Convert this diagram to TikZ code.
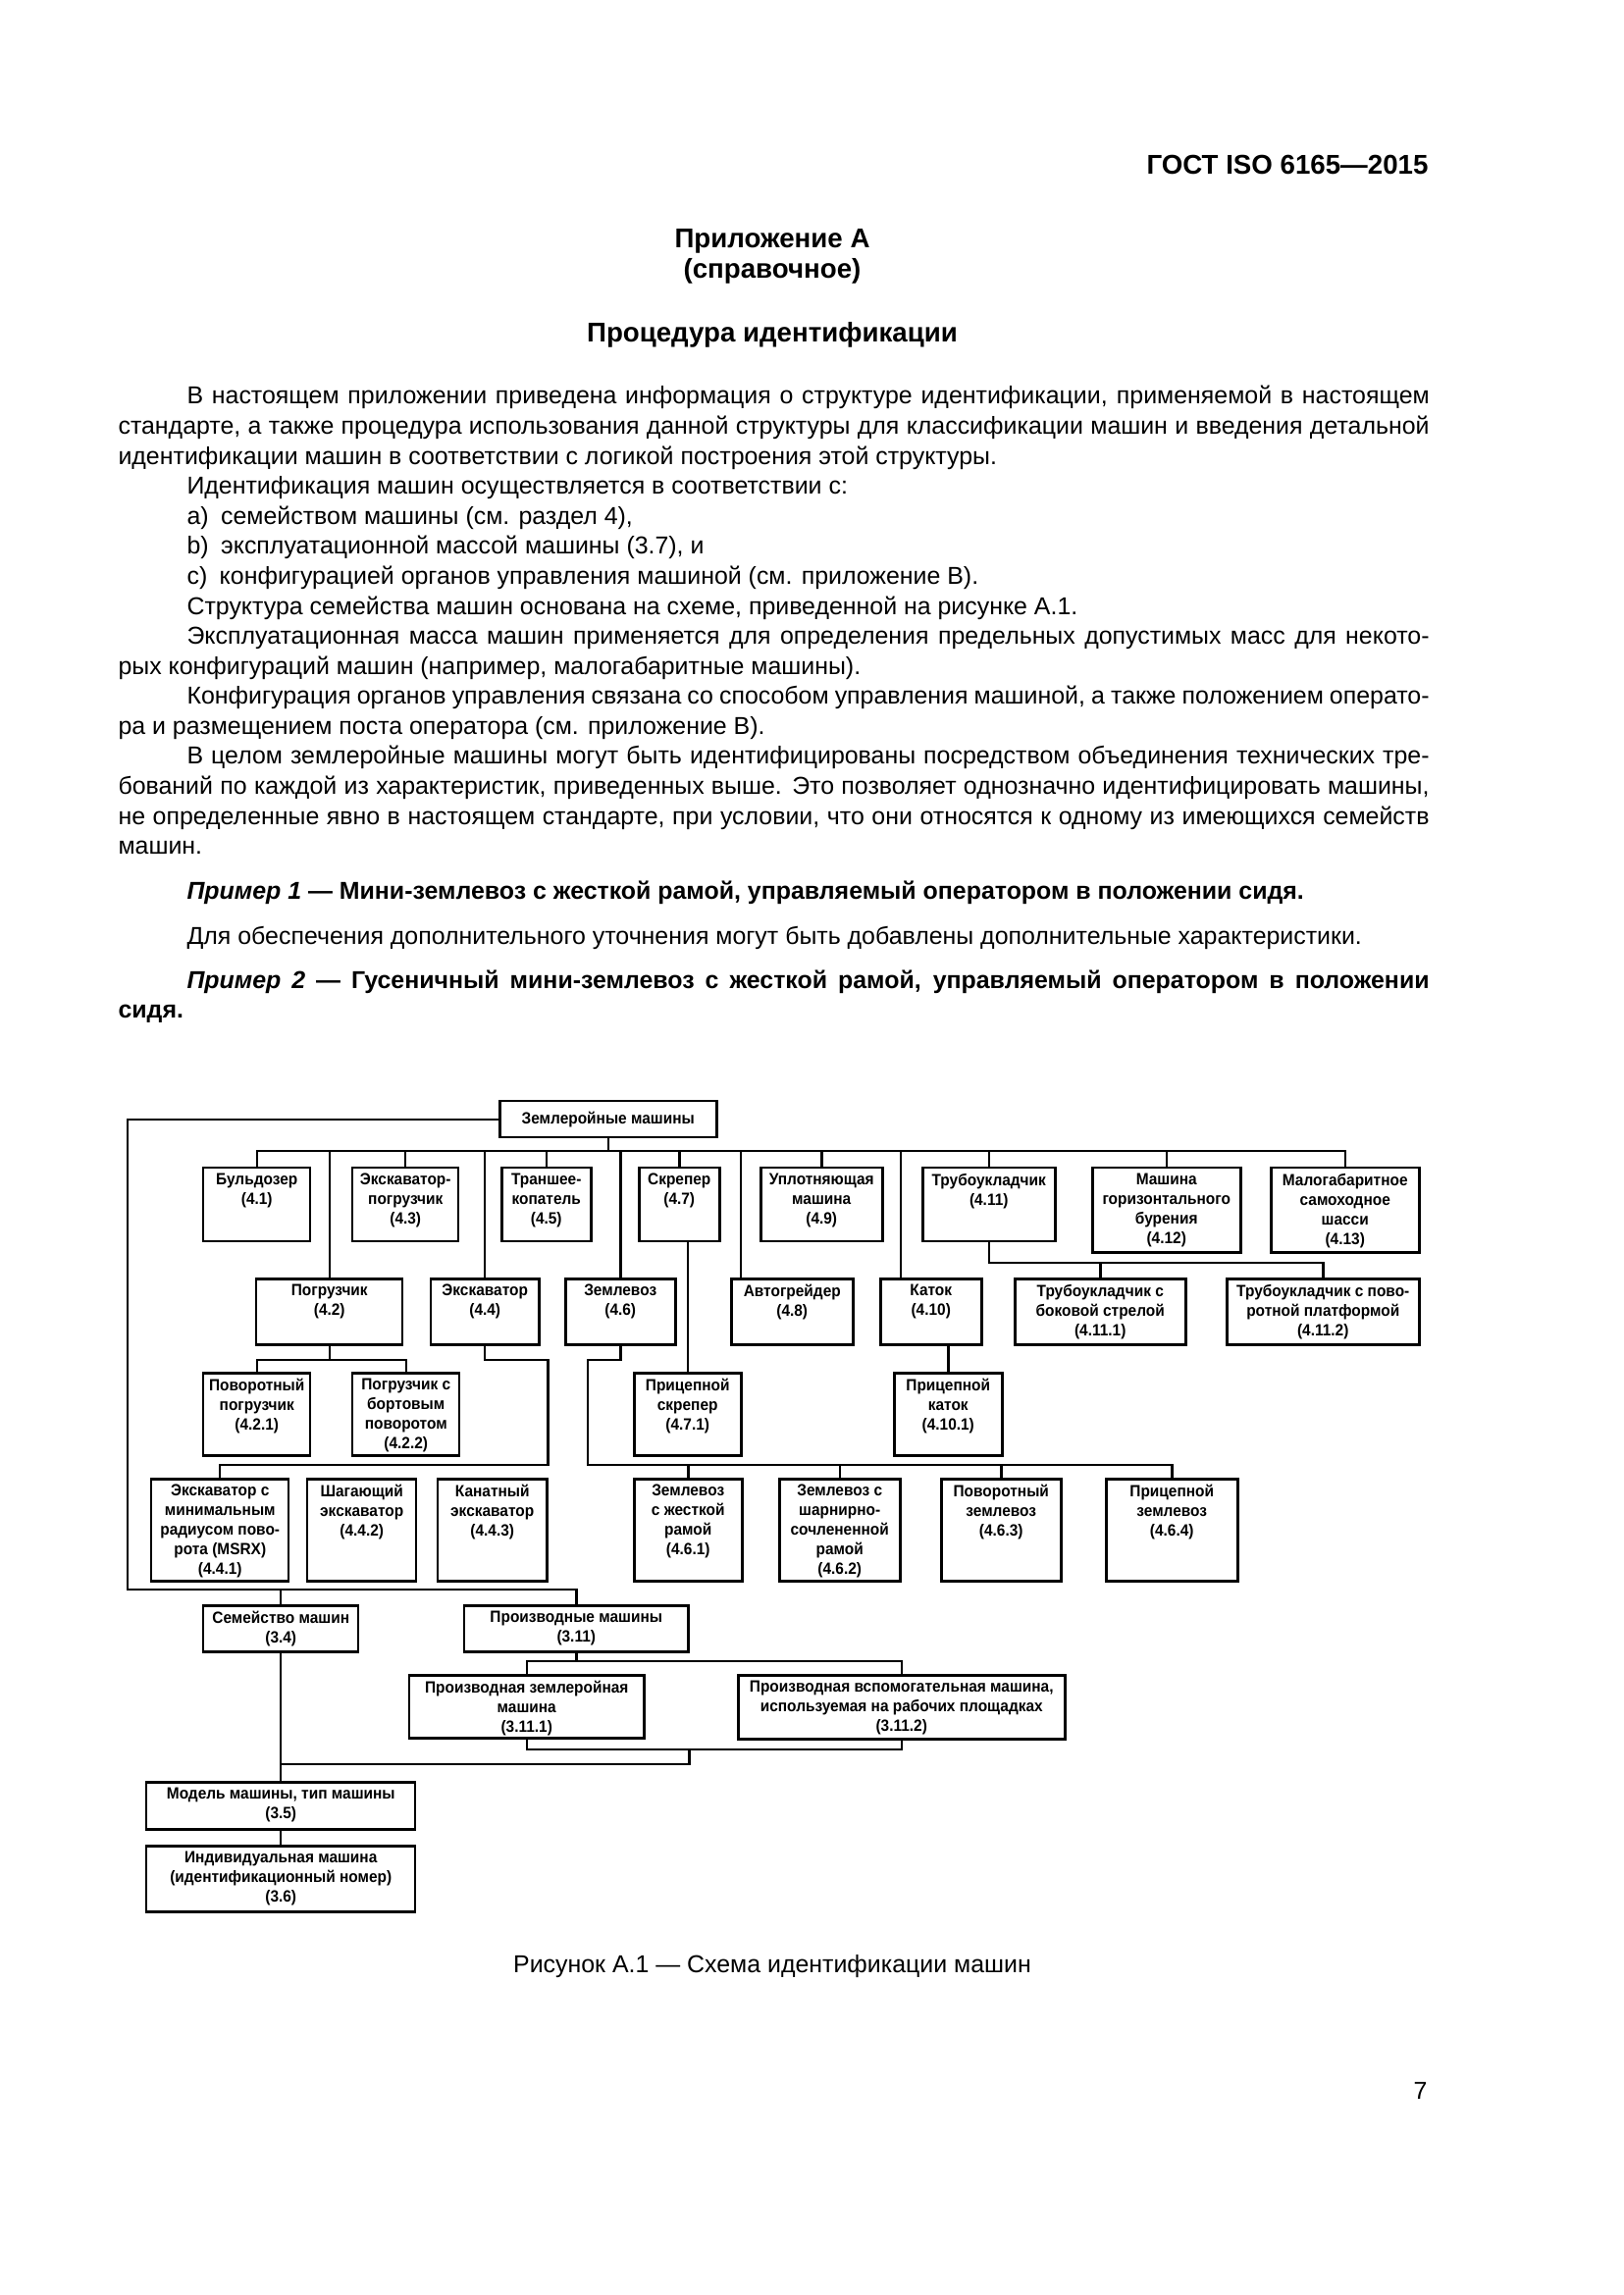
\documentclass[tikz,border=0pt]{standalone}
\usepackage{fontspec}
\setmainfont{Liberation Sans}
\newfontfamily{\gbfont}[FakeStretch=0.93]{Liberation Sans}
\newlength{\pxu}
\setlength{\pxu}{0.127mm}
% box text: width, height (in px), lines
\newcommand{\bt}[3]{\parbox[t][\dimexpr#2\pxu-12\pxu\relax][t]{#1\pxu}{\centering #3}}
\begin{document}
\begin{tikzpicture}[x=\pxu,y=-\pxu]
\tikzstyle{gb}=[draw=black,line width=.9pt,anchor=north west,inner xsep=0pt,inner ysep=6\pxu,font=\gbfont\fontsize{6}{7.2}\selectfont\bfseries]
\tikzstyle{ed}=[draw=black,line width=.9pt]
\tikzstyle{txt}=[inner sep=0pt,font=\fontsize{9}{11.05}\selectfont]
\tikzstyle{hd}=[inner sep=0pt,anchor=base,font=\fontsize{10}{12}\selectfont\bfseries]
\fill [white] (0,0) rectangle (1654,2339);
% page text
\node [hd,anchor=base east] (gost) at (1456,178) {ГОСТ ISO 6165—2015};
\node [hd] (app) at (787,253) {Приложение А};
\node [hd] (spr) at (787,284) {(справочное)};
\node [hd] (proc) at (787,349) {Процедура идентификации};
\node [txt,anchor=base west,text width=1336\pxu,align=justify] (body) at (120,412) {\setlength{\parindent}{70\pxu}\hspace*{70\pxu}%
В настоящем приложении приведена информация о структуре идентификации, применяемой в настоящем\linebreak стандарте, а также процедура использования данной структуры для классификации машин и введения детальной\linebreak идентификации машин в соответствии с логикой построения этой структуры.\par
Идентификация машин осуществляется в соответствии с:\par
a)\enspace семейством машины (см. раздел 4),\par
b)\enspace эксплуатационной массой машины (3.7), и\par
c)\enspace конфигурацией органов управления машиной (см. приложение B).\par
Структура семейства машин основана на схеме, приведенной на рисунке А.1.\par
Эксплуатационная масса машин применяется для определения предельных допустимых масс для некото-\linebreak рых конфигураций машин (например, малогабаритные машины).\par
Конфигурация органов управления связана со способом управления машиной, а также положением операто-\linebreak ра и размещением поста оператора (см. приложение B).\par
В целом землеройные машины могут быть идентифицированы посредством объединения технических тре-\linebreak бований по каждой из характеристик, приведенных выше. Это позволяет однозначно идентифицировать машины,\linebreak не определенные явно в настоящем стандарте, при условии, что они относятся к одному из имеющихся семейств\linebreak машин.\par};
\node [txt,anchor=base west,font=\fontsize{9}{11.05}\selectfont\bfseries] (ex1) at (190,916) {\textit{Пример 1} — Мини-землевоз с жесткой рамой, управляемый оператором в положении сидя.};
\node [txt,anchor=base west] (more) at (190,962) {Для обеспечения дополнительного уточнения могут быть добавлены дополнительные характеристики.};
\node [txt,anchor=base west,text width=1336\pxu,align=justify,font=\fontsize{9}{11.05}\selectfont\bfseries] (ex2) at (120,1007) {\hspace*{70\pxu}%
\textit{Пример 2} — Гусеничный мини-землевоз с жесткой рамой, управляемый оператором в положении\linebreak сидя.\par};
\node [txt,anchor=base] (cap) at (787,2010) {Рисунок А.1 — Схема идентификации машин};
\node [txt,anchor=base east] (pnum) at (1455,2139) {7};
% boxes
\node [gb,minimum width=221\pxu,minimum height=37\pxu,inner ysep=0pt] (main) at (508,1121) {Землеройные машины};
\node [gb] (buld) at (206,1189) {\bt{109}{75}{Бульдозер\\(4.1)}};
\node [gb] (ekp) at (358,1189) {\bt{108}{75}{Экскаватор-\\погрузчик\\(4.3)}};
\node [gb] (tran) at (510,1189) {\bt{91}{75}{Траншее-\\копатель\\(4.5)}};
\node [gb] (skr) at (650,1189) {\bt{82}{75}{Скрепер\\(4.7)}};
\node [gb] (upl) at (774,1189) {\bt{124}{75}{Уплотняющая\\машина\\(4.9)}};
\node [gb] (trub) at (939,1189) {\bt{135}{75}{Трубоукладчик\\(4.11)}};
\node [gb] (mgb) at (1112,1189) {\bt{151}{86}{Машина\\горизонтального\\бурения\\(4.12)}};
\node [gb] (malo) at (1294,1189) {\bt{151}{86}{Малогабаритное\\самоходное\\шасси\\(4.13)}};
\node [gb] (pogr) at (260,1302) {\bt{149}{67}{Погрузчик\\(4.2)}};
\node [gb] (ekskav) at (438,1302) {\bt{110}{67}{Экскаватор\\(4.4)}};
\node [gb] (zeml) at (575,1302) {\bt{112}{67}{Землевоз\\(4.6)}};
\node [gb] (agr) at (744,1302) {\bt{124}{67}{Автогрейдер\\(4.8)}};
\node [gb] (kat) at (896,1302) {\bt{103}{67}{Каток\\(4.10)}};
\node [gb] (trb1) at (1033,1302) {\bt{174}{67}{Трубоукладчик с\\боковой стрелой\\(4.11.1)}};
\node [gb] (trb2) at (1249,1302) {\bt{196}{67}{Трубоукладчик с пово-\\ротной платформой\\(4.11.2)}};
\node [gb] (povp) at (206,1398) {\bt{109}{84}{Поворотный\\погрузчик\\(4.2.1)}};
\node [gb] (bortp) at (358,1398) {\bt{109}{84}{Погрузчик с\\бортовым\\поворотом\\(4.2.2)}};
\node [gb] (pscr) at (645,1398) {\bt{109}{84}{Прицепной\\скрепер\\(4.7.1)}};
\node [gb] (pkat) at (910,1398) {\bt{110}{84}{Прицепной\\каток\\(4.10.1)}};
\node [gb] (msrx) at (153,1506) {\bt{140}{104}{Экскаватор с\\минимальным\\радиусом пово-\\рота (MSRX)\\(4.4.1)}};
\node [gb] (shag) at (312,1506) {\bt{111}{104}{Шагающий\\экскаватор\\(4.4.2)}};
\node [gb] (kanat) at (445,1506) {\bt{111}{104}{Канатный\\экскаватор\\(4.4.3)}};
\node [gb] (zm1) at (645,1506) {\bt{110}{104}{Землевоз\\с жесткой\\рамой\\(4.6.1)}};
\node [gb] (zm2) at (793,1506) {\bt{123}{104}{Землевоз с\\шарнирно-\\сочлененной\\рамой\\(4.6.2)}};
\node [gb] (zm3) at (958,1506) {\bt{122}{104}{Поворотный\\землевоз\\(4.6.3)}};
\node [gb] (zm4) at (1126,1506) {\bt{134}{104}{Прицепной\\землевоз\\(4.6.4)}};
\node [gb] (sem) at (206,1635) {\bt{158}{47}{Семейство машин\\(3.4)}};
\node [gb] (proizv) at (472,1635) {\bt{228}{47}{Производные машины\\(3.11)}};
\node [gb] (pzm) at (416,1706) {\bt{239}{64}{Производная землеройная\\машина\\(3.11.1)}};
\node [gb] (pvm) at (751,1706) {\bt{333}{65}{Производная вспомогательная машина,\\используемая на рабочих площадках\\(3.11.2)}};
\node [gb] (model) at (148,1815) {\bt{274}{48}{Модель машины, тип машины\\(3.5)}};
\node [gb] (ind) at (148,1880) {\bt{274}{67}{Индивидуальная машина\\(идентификационный номер)\\(3.6)}};
% bus levels
\coordinate (bus) at (0,1173);
\coordinate (b2) at (0,1287);
\coordinate (b3) at (0,1386);
\coordinate (b4) at (0,1493);
\coordinate (b5) at (0,1693);
\coordinate (b6) at (0,1783);
\coordinate (b7) at (0,1798);
\coordinate (lft) at (130,1620);
\coordinate (agrin) at ([xshift=11\pxu]agr.north west);
\coordinate (katin) at ([xshift=22\pxu]kat.north west);
\coordinate (zl) at ([xshift=24\pxu]zeml.south west);
\coordinate (jn) at (proizv.south east |- b6);
% top level
\draw [ed] (main.south) -- (main.south |- bus);
\draw [ed] (buld.north) |- (malo.north |- bus) -- (malo.north);
\draw [ed] (ekp.north) -- (ekp.north |- bus);
\draw [ed] (tran.north) -- (tran.north |- bus);
\draw [ed] (skr.north) -- (skr.north |- bus);
\draw [ed] (upl.north) -- (upl.north |- bus);
\draw [ed] (trub.north) -- (trub.north |- bus);
\draw [ed] (mgb.north) -- (mgb.north |- bus);
\draw [ed] (pogr.north) -- (pogr.north |- bus);
\draw [ed] (ekskav.north) -- (ekskav.north |- bus);
\draw [ed] (zeml.north) -- (zeml.north |- bus);
\draw [ed] (agrin) -- (agrin |- bus);
\draw [ed] (katin) -- (katin |- bus);
% second level
\draw [ed] (trub.south) |- (trb2.north |- b2) -- (trb2.north);
\draw [ed] (trb1.north) -- (trb1.north |- b2);
\draw [ed] (pogr.south) -- (pogr.south |- b3);
\draw [ed] (povp.north) |- (bortp.north |- b3) -- (bortp.north);
\draw [ed] (pscr.north) -- (pscr.north |- skr.south);
\draw [ed] (pkat.north) -- (pkat.north |- kat.south);
\draw [ed] (ekskav.south) |- (kanat.east |- b3) -- (kanat.east |- b4) -| (msrx.north);
\draw [ed] (zeml.south) |- (zl |- b3) -- (zl |- b4) -| (zm4.north);
\draw [ed] (zm1.north) -- (zm1.north |- b4);
\draw [ed] (zm2.north) -- (zm2.north |- b4);
\draw [ed] (zm3.north) -- (zm3.north |- b4);
% family and derived
\draw [ed] (main.west) -| (lft) -| (proizv.north);
\draw [ed] (sem.north) -- (sem.north |- lft);
\draw [ed] (proizv.south) -- (proizv.south |- b5);
\draw [ed] (pzm.north) |- (pvm.north |- b5) -- (pvm.north);
\draw [ed] (pzm.south) |- (pvm.south |- b6) -- (pvm.south);
\draw [ed] (jn) |- (sem.south |- b7);
\draw [ed] (sem.south) -- (model.north);
\draw [ed] (model.south) -- (ind.north);
\end{tikzpicture}
\end{document}
